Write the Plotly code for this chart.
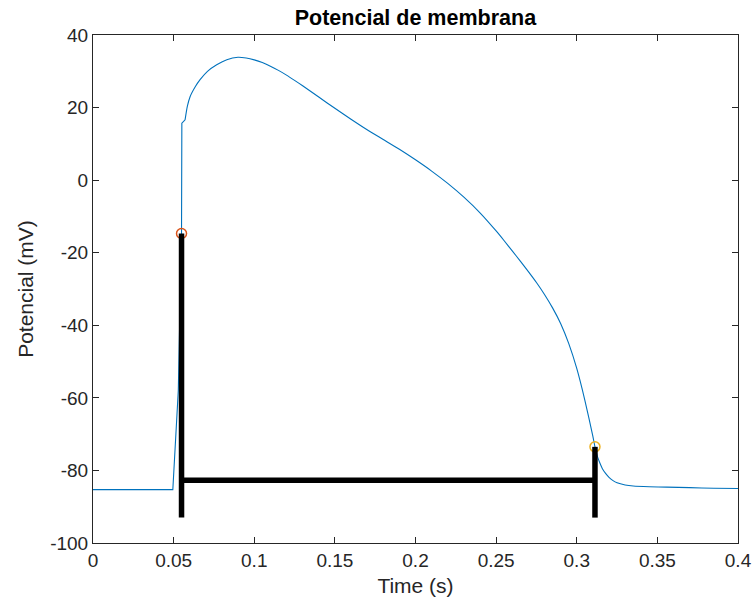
import plotly.graph_objects as go

# ---- data ----
time_s = [0, 0.0495, 0.0529, 0.0549, 0.0551, 0.0571,
          0.0585, 0.0602, 0.0635, 0.0664, 0.071, 0.0767, 0.083, 0.0899,
          0.095, 0.100, 0.105, 0.110, 0.115, 0.120, 0.125, 0.130, 0.140, 0.150,
          0.160, 0.170, 0.180, 0.190, 0.200, 0.210, 0.220, 0.230, 0.240, 0.250,
          0.255, 0.260, 0.265, 0.270, 0.275, 0.280, 0.285, 0.290, 0.295, 0.300,
          0.305, 0.310, 0.3113, 0.313, 0.3144, 0.316, 0.318, 0.320, 0.3225, 0.325,
          0.330, 0.335, 0.345, 0.3558, 0.370, 0.385, 0.400]
potential_mv = [-85.3, -85.3, -58, -14.7, 15.7, 16.6,
                20.3, 23.0, 25.8, 27.7, 30.0, 31.8, 33.2, 33.85,
                33.65, 33.15, 32.4, 31.4, 30.25, 28.95, 27.5, 26.0, 22.9, 19.8,
                16.8, 13.9, 11.2, 8.5, 5.6, 2.5, -0.9, -4.7, -9.0, -14.0,
                -16.7, -19.5, -22.3, -25.2, -28.2, -31.5, -35.2, -39.5, -45.0, -51.9,
                -60.6, -70.6, -73.5, -76.4, -78.0, -79.6, -80.9, -81.9, -82.8, -83.4,
                -84.0, -84.3, -84.5, -84.6, -84.75, -84.9, -85.0]

start_point = (0.0549, -14.7)
end_point = (0.3113, -73.5)
bar_level = -82.7
bar_bottom = -93

x_ticks = [0, 0.05, 0.1, 0.15, 0.2, 0.25, 0.3, 0.35, 0.4]
x_ticktext = ["0", "0.05", "0.1", "0.15", "0.2", "0.25", "0.3", "0.35", "0.4"]
y_ticks = [-100, -80, -60, -40, -20, 0, 20, 40]
y_ticktext = [str(v) for v in y_ticks]

# ---- figure ----
split = 5  # index of the kink at the top of the upstroke
line_style = dict(color="#0072BD", width=1.1)
fig = go.Figure()
fig.add_trace(go.Scatter(x=time_s[:split + 1], y=potential_mv[:split + 1], mode="lines",
                         line=line_style, showlegend=False))
fig.add_trace(go.Scatter(x=time_s[split:], y=potential_mv[split:], mode="lines",
                         line=dict(line_style, shape="spline", smoothing=0.6),
                         showlegend=False))
fig.add_trace(go.Scatter(x=[start_point[0]], y=[start_point[1]], mode="markers",
                         marker=dict(symbol="circle-open", size=10, color="#D95319",
                                     line=dict(width=1.5, color="#D95319")),
                         showlegend=False))
fig.add_trace(go.Scatter(x=[end_point[0]], y=[end_point[1]], mode="markers",
                         marker=dict(symbol="circle-open", size=10, color="#EDB120",
                                     line=dict(width=1.5, color="#EDB120")),
                         showlegend=False))
bx = [start_point[0], start_point[0], None,
      start_point[0], end_point[0], None,
      end_point[0], end_point[0]]
by = [start_point[1], bar_bottom, None,
      bar_level, bar_level, None,
      end_point[1], bar_bottom]
fig.add_trace(go.Scatter(x=bx, y=by, mode="lines",
                         line=dict(color="black", width=5.5), showlegend=False))

axis_color = "#262626"
font_family = "Liberation Sans, Arial, sans-serif"
fig.update_layout(
    width=753, height=606,
    margin=dict(l=93, r=15, t=35, b=63, autoexpand=False),
    paper_bgcolor="white", plot_bgcolor="white",
    font=dict(family=font_family, color=axis_color, size=19),
    title=dict(text="<b>Potencial de membrana</b>", x=0.5517, xanchor="center",
               y=1 - 17 / 606, yanchor="middle", yref="container",
               font=dict(size=21.5, color="black", family=font_family)),
    xaxis=dict(range=[0, 0.4], tickvals=x_ticks, ticktext=x_ticktext,
               ticks="inside", ticklen=6, tickcolor=axis_color, tickwidth=1,
               showline=True, linecolor=axis_color, linewidth=1, mirror="ticks",
               showgrid=False, zeroline=False, automargin=False,
               tickfont=dict(size=19),
               title=dict(text="Time (s)", font=dict(size=21), standoff=8)),
    yaxis=dict(range=[-100, 40], tickvals=y_ticks, ticktext=y_ticktext,
               ticks="inside", ticklen=6, tickcolor=axis_color, tickwidth=1,
               showline=True, linecolor=axis_color, linewidth=1, mirror="ticks",
               showgrid=False, zeroline=False, automargin=False,
               tickfont=dict(size=19),
               title=dict(text="Potencial (mV)", font=dict(size=21), standoff=10)),
)
fig.write_html("out.html")
